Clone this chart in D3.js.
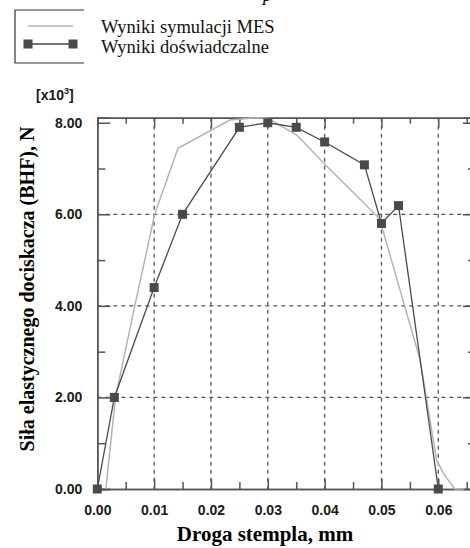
<!DOCTYPE html>
<html>
<head>
  <meta charset="utf-8">
  <title>BHF</title>
  <script src="https://cdn.jsdelivr.net/npm/d3@7/dist/d3.min.js"></script>
  <style>
    body { margin: 0; background: #fff; }
  </style>
</head>
<body>
<script>
// experimental (squares)
var expX = [0, 0.003, 0.010, 0.015, 0.025, 0.030, 0.035, 0.040, 0.047, 0.050, 0.053, 0.060];
var expY = [0, 2.0, 4.4, 6.0, 7.9, 8.0, 7.9, 7.58, 7.08, 5.8, 6.19, 0];
// simulation (grey line)
var simX = [0.0015, 0.0032, 0.0066, 0.0101, 0.0142, 0.0233, 0.0280, 0.0300, 0.0351, 0.0400, 0.0493, 0.0499, 0.0568, 0.0597, 0.0609, 0.0629, 0.0645];
var simY = [0, 2.0, 4.0, 6.0, 7.44, 8.06, 8.11, 8.1, 7.73, 7.1, 5.95, 5.8, 2.82, 0.63, 0.34, 0, 0];

var xMajor = [0, 0.01, 0.02, 0.03, 0.04, 0.05, 0.06];
var xMinor = [0.005, 0.015, 0.025, 0.035, 0.045, 0.055, 0.065];
var yMajor = [0, 2, 4, 6, 8];
var yMinor = [1, 3, 5, 7];
var legendLabels = ["Wyniki symulacji MES", "Wyniki doświadczalne"];

var W = 470, H = 548;
var svg = d3.select("body").append("svg").attr("width", W).attr("height", H);

var x = d3.scaleLinear().domain([0, 0.066]).range([97.3, 472.4]);
var y = d3.scaleLinear().domain([0, 8.11]).range([489, 117.7]);

var sans = "'Liberation Sans', Arial, sans-serif";
var serif = "'Liberation Serif', 'Times New Roman', serif";
var axisCol = "#555";

// grid
svg.selectAll(".vgrid").data(xMajor.slice(1)).enter().append("line")
  .attr("x1", d => x(d)).attr("x2", d => x(d))
  .attr("y1", y(8.11)).attr("y2", y(0))
  .attr("stroke", "#555").attr("stroke-width", 1.3).attr("stroke-dasharray", "4,4");
svg.selectAll(".hgrid").data([2, 4, 6]).enter().append("line")
  .attr("x1", x(0)).attr("x2", W)
  .attr("y1", d => y(d)).attr("y2", d => y(d))
  .attr("stroke", "#555").attr("stroke-width", 1.3).attr("stroke-dasharray", "4,4");

function styleAxis(g) {
  g.selectAll("path,line").attr("stroke", axisCol).attr("stroke-width", 1.5);
  g.selectAll("text").attr("font-family", sans).attr("font-weight", "bold")
    .attr("font-size", 14).attr("fill", "#1a1a1a");
}

// left
svg.append("g").attr("transform", "translate(" + x(0) + ",0)")
  .call(d3.axisLeft(y).tickValues(yMinor).tickSize(-8).tickFormat(""))
  .call(styleAxis);
svg.append("g").attr("transform", "translate(" + x(0) + ",0)")
  .call(d3.axisLeft(y).tickValues(yMajor).tickSize(-13).tickPadding(15).tickFormat(d3.format(".2f")))
  .call(styleAxis);
// right
svg.append("g").attr("transform", "translate(474,0)")
  .call(d3.axisRight(y).tickValues(yMinor).tickSize(-6).tickFormat(""))
  .call(styleAxis);
svg.append("g").attr("transform", "translate(474,0)")
  .call(d3.axisRight(y).tickValues(yMajor.slice(1)).tickSize(-11).tickFormat(""))
  .call(styleAxis);
// bottom
svg.append("g").attr("transform", "translate(0," + y(0) + ")")
  .call(d3.axisBottom(x).tickValues(xMinor).tickSize(-7).tickFormat(""))
  .call(styleAxis);
svg.append("g").attr("transform", "translate(0," + y(0) + ")")
  .call(d3.axisBottom(x).tickValues(xMajor).tickSize(-10).tickPadding(16).tickFormat(d3.format(".2f")))
  .call(styleAxis);
// top
svg.append("g").attr("transform", "translate(0," + y(8.11) + ")")
  .call(d3.axisTop(x).tickValues(xMinor).tickSize(-6).tickFormat(""))
  .call(styleAxis);
svg.append("g").attr("transform", "translate(0," + y(8.11) + ")")
  .call(d3.axisTop(x).tickValues(xMajor.slice(1)).tickSize(-10).tickFormat(""))
  .call(styleAxis);

// simulation line
var simData = simX.map((d, i) => [d, simY[i]]);
svg.append("path").datum(simData)
  .attr("d", d3.line().x(d => x(d[0])).y(d => y(d[1])))
  .attr("fill", "none").attr("stroke", "#b4b4b4").attr("stroke-width", 1.5);

// experimental line + squares
var expData = expX.map((d, i) => [d, expY[i]]);
svg.append("path").datum(expData)
  .attr("d", d3.line().x(d => x(d[0])).y(d => y(d[1])))
  .attr("fill", "none").attr("stroke", "#4a4a4a").attr("stroke-width", 1.3);
svg.selectAll(".sq").data(expData).enter().append("rect")
  .attr("x", d => x(d[0]) - 4.5).attr("y", d => y(d[1]) - 4.5)
  .attr("width", 9).attr("height", 9).attr("fill", "#4a4a4a");

// unit label
var unit = svg.append("text").attr("x", 36).attr("y", 100)
  .attr("font-family", sans).attr("font-weight", "bold").attr("font-size", 14).attr("fill", "#1a1a1a");
unit.append("tspan").text("[x10");
unit.append("tspan").attr("font-size", 9).attr("dy", -6).text("3");
unit.append("tspan").attr("dy", 6).text("]");

// axis titles
svg.append("text").attr("x", 265).attr("y", 541).attr("text-anchor", "middle")
  .attr("font-family", serif).attr("font-weight", "bold").attr("font-size", 21)
  .text("Droga stempla, mm");
svg.append("text").attr("transform", "translate(34,289) rotate(-90)").attr("text-anchor", "middle")
  .attr("font-family", serif).attr("font-weight", "bold").attr("font-size", 20)
  .text("Siła elastycznego dociskacza (BHF), N");

// legend
svg.append("path").attr("d", "M84,10 H15 V63 H84")
  .attr("fill", "none").attr("stroke", "#333").attr("stroke-width", 1.2);
svg.append("line").attr("x1", 28).attr("x2", 73).attr("y1", 26).attr("y2", 26)
  .attr("stroke", "#b4b4b4").attr("stroke-width", 1.5);
svg.append("line").attr("x1", 28).attr("x2", 73).attr("y1", 44).attr("y2", 44)
  .attr("stroke", "#4a4a4a").attr("stroke-width", 1.3);
svg.selectAll(".lsq").data([28, 73]).enter().append("rect")
  .attr("x", d => d - 4.5).attr("y", 39.5).attr("width", 9).attr("height", 9).attr("fill", "#4a4a4a");
svg.selectAll(".ltxt").data(legendLabels).enter().append("text")
  .attr("x", 101).attr("y", (d, i) => 33 + i * 20)
  .attr("font-family", serif).attr("font-size", 18.5).attr("fill", "#111")
  .text(d => d);

// cut-off caption letter at the top
svg.append("text").attr("x", 263).attr("y", 1)
  .attr("font-family", serif).attr("font-style", "italic").attr("font-size", 18).text("p");
</script>
</body>
</html>
